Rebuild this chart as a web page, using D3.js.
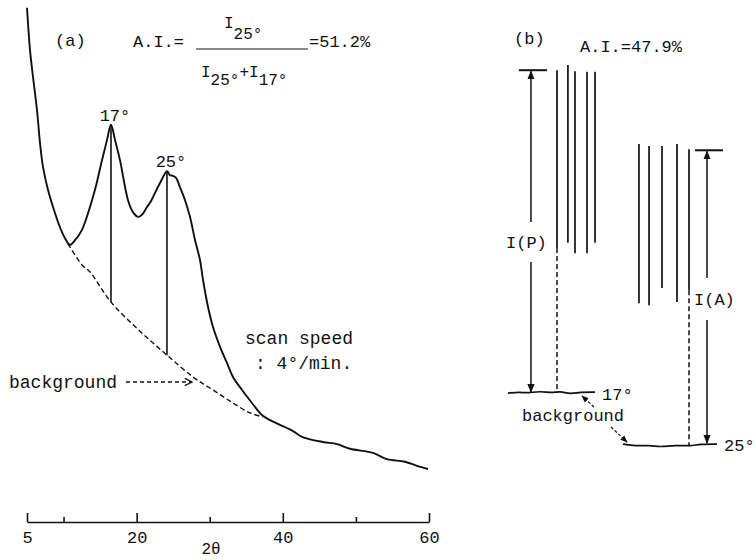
<!DOCTYPE html>
<html>
<head>
<meta charset="utf-8">
<script src="https://cdn.jsdelivr.net/npm/d3@7"></script>
<style>
  body { margin: 0; background: #fff; }
  svg text { font-family: "Liberation Mono", "DejaVu Sans Mono", monospace; fill: #111; }
</style>
</head>
<body>
<svg id="chart" width="756" height="560"></svg>
<script>
// (a) diffraction trace, 2theta (deg) vs relative intensity
var scanTheta = [5.0, 5.41, 5.82, 6.37, 6.78, 7.19, 7.87, 8.56, 9.51, 10.2, 10.88, 11.57, 12.52, 13.35, 14.3, 15.26, 15.95, 16.49,
    17.04, 17.72, 18.82, 19.5, 20.19, 20.73, 21.42, 21.83, 22.24, 22.79, 23.2, 23.74, 24.15, 24.56, 24.97, 25.39, 25.93,
    26.62, 27.3, 27.99, 28.67, 29.08, 29.76, 30.45, 31.41, 32.36, 33.18, 34.42, 35.78, 37.15, 38.25, 39.61, 41.39,
    42.62, 45.5, 47.41, 49.19, 52.34, 54.25, 56.72, 58.36, 59.86];
var scanIntensity = [98.5, 90.4, 85.2, 78.8, 72.5, 67.9, 63.5, 60.2, 56.3, 54.2, 52.9, 53.8, 55.8, 59.0, 63.5, 69.2, 73.1, 76.0,
    73.1, 69.2, 61.5, 59.2, 58.3, 58.7, 60.2, 61.0, 62.1, 63.7, 64.8, 66.3, 67.1, 66.3, 66.2, 65.8, 64.0,
    61.5, 58.3, 53.8, 50.0, 46.2, 41.0, 37.1, 33.3, 30.2, 27.5, 25.0, 22.5, 20.2, 19.2, 18.3, 17.1,
    16.0, 15.0, 14.6, 13.7, 12.9, 11.7, 11.2, 10.4, 9.8];
var bgTheta = [10.61, 12.55, 13.62, 16.49, 20.46, 24.15, 27.71, 30.45, 33.18, 35.51, 37.29];
var bgIntensity = [53.1, 49.0, 47.7, 41.9, 36.3, 31.7, 27.5, 25.0, 22.5, 20.6, 19.8];
var peakTheta = [16.49, 24.15];
var peakTop = [76.0, 67.1];
var peakBase = [41.9, 31.7];
var peakLabels = ["17°", "25°"];
var majorTicks = [5, 20, 40, 60];
var minorTicks = [10, 30, 50];

// (b) line pattern, position (arbitrary) vs relative intensity
var pLinePos = [23.75, 28.3, 31.25, 36.25, 39.6];
var pLineTop = [86.5, 87.5, 86.3, 86.2, 86.2];
var pLineBottom = [52.3, 53.3, 51.3, 51.3, 53.3];
var aLinePos = [57.9, 62.1, 67.5, 73.75, 78.75];
var aLineTop = [72.3, 71.9, 71.9, 72.3, 71.3];
var aLineBottom = [41.7, 41.3, 44.6, 41.9, 44.2];
var pBgPos = [3.3, 8.3, 11.7, 16.7, 21.7, 25.0, 29.2, 33.3, 39.6];
var pBgLevel = [24.4, 24.6, 24.4, 24.8, 24.4, 24.8, 24.2, 24.6, 24.6];
var aBgPos = [51.25, 56.25, 62.5, 66.7, 72.9, 79.2, 83.3, 90.4];
var aBgLevel = [14.6, 14.2, 14.4, 14.0, 14.4, 14.2, 14.6, 14.6];
var pIntensityPos = 12.9;
var aIntensityPos = 86.25;

var svg = d3.select("#chart");

var x = d3.scaleLinear().domain([5, 60]).range([27, 429]);
var y = d3.scaleLinear().domain([0, 100]).range([520, 0]);
var xb = d3.scaleLinear().domain([0, 100]).range([500, 740]);

svg.append("defs").append("marker")
    .attr("id", "tip")
    .attr("viewBox", "0 0 10 10")
    .attr("refX", 9).attr("refY", 5)
    .attr("markerWidth", 6).attr("markerHeight", 6)
    .attr("orient", "auto")
    .append("path").attr("d", "M0,1 L10,5 L0,9 Z").attr("fill", "#111");

svg.select("defs").append("marker")
    .attr("id", "open")
    .attr("viewBox", "0 0 10 10")
    .attr("refX", 9).attr("refY", 5)
    .attr("markerWidth", 7).attr("markerHeight", 7)
    .attr("orient", "auto")
    .append("path").attr("d", "M1,1 L9,5 L1,9").attr("fill", "none").attr("stroke", "#111").attr("stroke-width", 1.5);

// ---------- panel (a)
var scan = scanTheta.map(function (t, i) { return [t, scanIntensity[i]]; });
var bg = bgTheta.map(function (t, i) { return [t, bgIntensity[i]]; });

var line = d3.line()
    .x(function (d) { return x(d[0]); })
    .y(function (d) { return y(d[1]); })
    .curve(d3.curveCatmullRom);

svg.append("path").datum(bg)
    .attr("d", line)
    .attr("fill", "none").attr("stroke", "#111")
    .attr("stroke-width", 1.4).attr("stroke-dasharray", "5,3");

svg.append("path").datum(scan)
    .attr("d", line)
    .attr("fill", "none").attr("stroke", "#111")
    .attr("stroke-width", 1.9).attr("stroke-linejoin", "round");

svg.selectAll(".peak").data(peakTheta).enter().append("line")
    .attr("class", "peak")
    .attr("x1", function (d) { return x(d); })
    .attr("x2", function (d) { return x(d); })
    .attr("y1", function (d, i) { return y(peakTop[i]); })
    .attr("y2", function (d, i) { return y(peakBase[i]); })
    .attr("stroke", "#111").attr("stroke-width", 1.6);

svg.selectAll(".peakLabel").data(peakTheta).enter().append("text")
    .attr("x", function (d) { return x(d) + 4; })
    .attr("y", function (d, i) { return y(peakTop[i]) - 4; })
    .attr("text-anchor", "middle")
    .style("font-size", "17px")
    .text(function (d, i) { return peakLabels[i]; });

// axis
var axisY = 522;
svg.append("g")
    .attr("transform", "translate(0," + axisY + ")")
    .call(d3.axisBottom(x).tickValues(majorTicks).tickSizeInner(-9).tickSizeOuter(0).tickPadding(9)
        .tickFormat(d3.format("d")))
    .call(function (g) {
        g.select(".domain").attr("stroke", "#111").attr("stroke-width", 1.6);
        g.selectAll(".tick line").attr("stroke", "#111").attr("stroke-width", 1.6);
        g.selectAll(".tick text").style("font-size", "17px")
            .style("font-family", "'Liberation Mono', monospace").attr("fill", "#111");
    });
svg.append("g")
    .attr("transform", "translate(0," + axisY + ")")
    .call(d3.axisBottom(x).tickValues(minorTicks).tickSizeInner(-5).tickSizeOuter(0).tickFormat(""))
    .call(function (g) {
        g.select(".domain").remove();
        g.selectAll(".tick line").attr("stroke", "#111").attr("stroke-width", 1.6);
    });
svg.append("text").attr("x", 211).attr("y", 554).attr("text-anchor", "middle")
    .style("font-size", "16px").text("2θ");

// labels panel (a)
svg.append("text").attr("x", 55).attr("y", 46).style("font-size", "17px").text("(a)");
svg.append("text").attr("x", 133).attr("y", 47).style("font-size", "17px").text("A.I.=");
svg.append("line").attr("x1", 196).attr("x2", 308).attr("y1", 49).attr("y2", 49)
    .attr("stroke", "#111").attr("stroke-width", 1.2);
svg.append("text").attr("x", 309).attr("y", 47).style("font-size", "17px").text("=51.2%");

var num = svg.append("text").attr("x", 224).attr("y", 28).style("font-size", "16px");
num.append("tspan").text("I");
num.append("tspan").attr("dy", 11).text("25°");

var den = svg.append("text").attr("x", 201).attr("y", 77).style("font-size", "16px");
den.append("tspan").text("I");
den.append("tspan").attr("dy", 8).text("25°");
den.append("tspan").attr("dy", -8).text("+I");
den.append("tspan").attr("dy", 8).text("17°");

svg.append("text").attr("x", 245).attr("y", 344).style("font-size", "18px").text("scan speed");
svg.append("text").attr("x", 255).attr("y", 369).style("font-size", "18px").text(": 4°/min.");
svg.append("text").attr("x", 9).attr("y", 388).style("font-size", "18px").text("background");
svg.append("line").attr("x1", 126).attr("x2", 192).attr("y1", 382).attr("y2", 382)
    .attr("stroke", "#111").attr("stroke-width", 1.3).attr("stroke-dasharray", "4,3")
    .attr("marker-end", "url(#open)");

// ---------- panel (b)
function drawLines(pos, top, bottom) {
    svg.append("g").selectAll("line").data(pos).enter().append("line")
        .attr("x1", function (d) { return xb(d); })
        .attr("x2", function (d) { return xb(d); })
        .attr("y1", function (d, i) { return y(top[i]); })
        .attr("y2", function (d, i) { return y(bottom[i]); })
        .attr("stroke", "#111").attr("stroke-width", 1.7);
}
drawLines(pLinePos, pLineTop, pLineBottom);
drawLines(aLinePos, aLineTop, aLineBottom);

// dashed drop from the first/last line to background
svg.append("line")
    .attr("x1", xb(pLinePos[0])).attr("x2", xb(pLinePos[0]))
    .attr("y1", y(pLineBottom[0])).attr("y2", y(pBgLevel[4]))
    .attr("stroke", "#111").attr("stroke-width", 1.5).attr("stroke-dasharray", "5,3");
svg.append("line")
    .attr("x1", xb(aLinePos[4])).attr("x2", xb(aLinePos[4]))
    .attr("y1", y(aLineBottom[4])).attr("y2", y(aBgLevel[5]))
    .attr("stroke", "#111").attr("stroke-width", 1.5).attr("stroke-dasharray", "5,3");

var bline = d3.line()
    .x(function (d) { return xb(d[0]); })
    .y(function (d) { return y(d[1]); })
    .curve(d3.curveBasis);
svg.append("path").datum(pBgPos.map(function (p, i) { return [p, pBgLevel[i]]; }))
    .attr("d", bline).attr("fill", "none").attr("stroke", "#111").attr("stroke-width", 1.7);
svg.append("path").datum(aBgPos.map(function (p, i) { return [p, aBgLevel[i]]; }))
    .attr("d", bline).attr("fill", "none").attr("stroke", "#111").attr("stroke-width", 1.7);

// intensity arrows I(P), I(A)
function intensityArrow(pos, top, base, gapTop, gapBottom, label, labelX) {
    var cx = xb(pos);
    svg.append("line").attr("x1", cx - 12).attr("x2", cx + 16)
        .attr("y1", y(top)).attr("y2", y(top))
        .attr("stroke", "#111").attr("stroke-width", 2);
    svg.append("line").attr("x1", cx).attr("x2", cx)
        .attr("y1", gapTop).attr("y2", y(top) + 1)
        .attr("stroke", "#111").attr("stroke-width", 1.5).attr("marker-end", "url(#tip)");
    svg.append("line").attr("x1", cx).attr("x2", cx)
        .attr("y1", gapBottom).attr("y2", y(base) - 1)
        .attr("stroke", "#111").attr("stroke-width", 1.5).attr("marker-end", "url(#tip)");
    svg.append("text").attr("x", labelX).attr("y", (gapTop + gapBottom) / 2 + 6)
        .style("font-size", "17px").text(label);
}
intensityArrow(pIntensityPos, pLineTop[0], pBgLevel[2], 222, 262, "I(P)", 506);
intensityArrow(aIntensityPos, aLineTop[4] - 0.2, aBgLevel[6], 278, 320, "I(A)", 694);

svg.append("text").attr("x", 514).attr("y", 44).style("font-size", "17px").text("(b)");
svg.append("text").attr("x", 580).attr("y", 52).style("font-size", "17px").text("A.I.=47.9%");
svg.append("text").attr("x", 602).attr("y", 400).style("font-size", "17px").text("17°");
svg.append("text").attr("x", 724).attr("y", 451).style("font-size", "17px").text("25°");
svg.append("text").attr("x", 522).attr("y", 421).style("font-size", "17px").text("background");

svg.append("line").attr("x1", 594).attr("y1", 407).attr("x2", 582).attr("y2", 396)
    .attr("stroke", "#111").attr("stroke-width", 1.2).attr("stroke-dasharray", "3,2")
    .attr("marker-end", "url(#tip)");
svg.append("line").attr("x1", 611).attr("y1", 427).attr("x2", 627).attr("y2", 442)
    .attr("stroke", "#111").attr("stroke-width", 1.2).attr("stroke-dasharray", "3,2")
    .attr("marker-end", "url(#tip)");
</script>
</body>
</html>
